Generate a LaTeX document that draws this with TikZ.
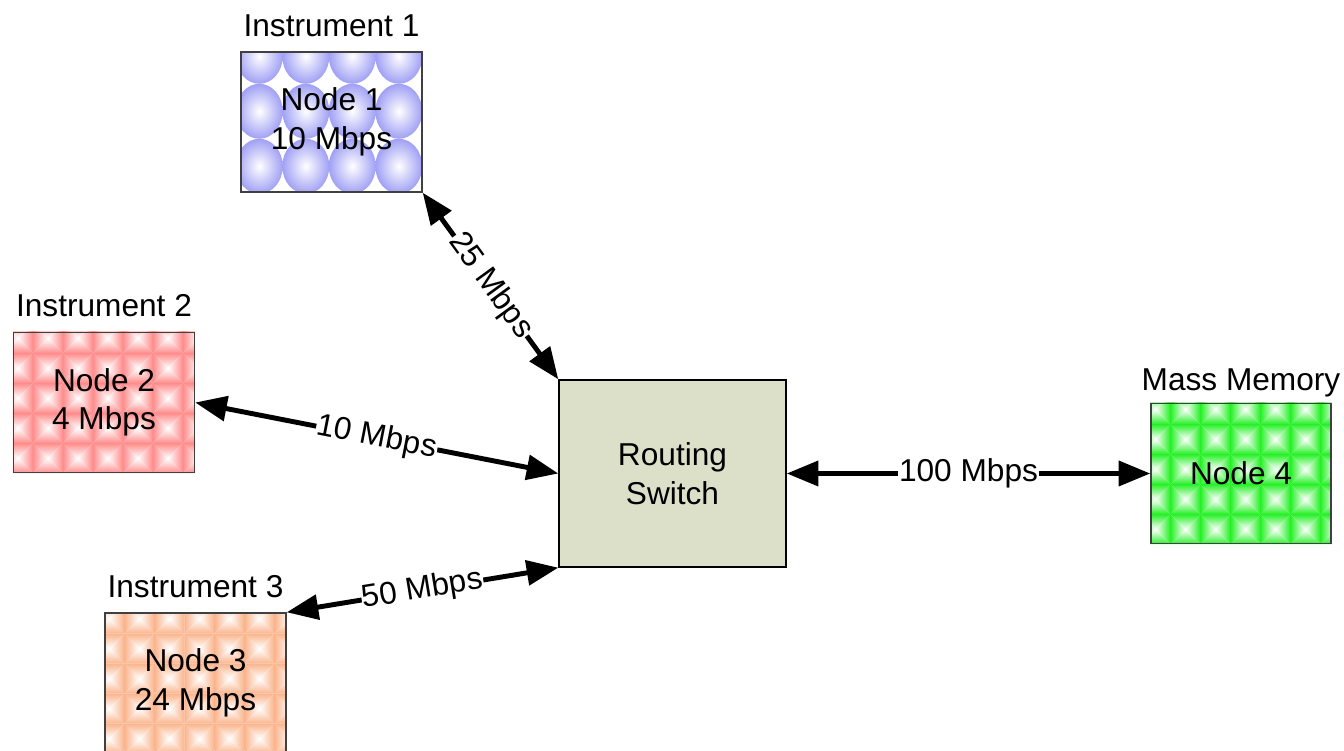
\documentclass[tikz,border=0pt]{standalone}
\usepackage{fontspec}
\setmainfont{Liberation Sans}
\usetikzlibrary{arrows.meta,backgrounds}

\definecolor{bubblec}{RGB}{160,160,245}
\definecolor{pinkc}{RGB}{255,140,140}
\definecolor{peachc}{RGB}{250,180,140}
\definecolor{greenc}{RGB}{40,240,40}
\definecolor{switchc}{RGB}{221,224,200}

\begin{document}
\begin{tikzpicture}[
    font=\fontsize{18}{22}\selectfont,
    box/.style={draw=black!75, line width=0.8pt, minimum width=3.62cm,
      minimum height=2.8cm, inner sep=0pt, align=center},
    title/.style={anchor=base, inner sep=0pt},
    link/.style={{Triangle[length=18pt,width=14pt]}-{Triangle[length=18pt,width=14pt]},
      line width=2.8pt},
    rate/.style={sloped, fill=white, inner sep=0.5pt}]
  \useasboundingbox (0,0) rectangle (26.88,15.02);

  % 节点
  \node[box] (node1) at (6.63,12.58) {Node 1\\10 Mbps};
  \node[box] (node2) at (2.08,6.97) {Node 2\\4 Mbps};
  \node[box] (node3) at (3.91,1.36) {Node 3\\24 Mbps};
  \node[box, minimum width=3.6cm] (node4) at (24.82,5.55) {Node 4};
  \node[box, draw=black, fill=switchc, minimum width=4.54cm, minimum height=3.74cm]
    (switch) at (13.45,5.55) {Routing\\Switch};

  % 标题
  \node[title] (t1) at ([yshift=0.3cm]node1.north) {Instrument 1};
  \node[title] (t2) at ([yshift=0.3cm]node2.north) {Instrument 2};
  \node[title] (t3) at ([yshift=0.3cm]node3.north) {Instrument 3};
  \node[title] (t4) at ([yshift=0.24cm]node4.north) {Mass Memory};

  % 填充图案
  \begin{scope}[on background layer]
    \begin{scope}
      \clip (node1.south west) rectangle (node1.north east);
      \foreach \i in {0,...,3}
        \foreach \j in {0,...,3} {
          \shade[inner color=white, outer color=bubblec]
            ([shift={(0.38+0.93*\i,-0.1-1.1*\j)}]node1.north west) ellipse (0.47 and 0.55);
        }
    \end{scope}
    \foreach \nd/\col in {node2/pinkc, node3/peachc, node4/greenc} {
      \begin{scope}
        \clip (\nd.south west) rectangle (\nd.north east);
        \foreach \i in {0,...,6}
          \foreach \j in {0,...,4} {
            \begin{scope}[shift={(\nd.south west)}, shift={(0.6*\i-0.2,0.6*\j)}]
              \shade[top color=\col, bottom color=white] (0,0.6) -- (0.6,0.6) -- (0.3,0.3) -- cycle;
              \shade[bottom color=\col, top color=white] (0,0) -- (0.6,0) -- (0.3,0.3) -- cycle;
              \shade[left color=\col, right color=white] (0,0) -- (0,0.6) -- (0.3,0.3) -- cycle;
              \shade[right color=\col, left color=white] (0.6,0) -- (0.6,0.6) -- (0.3,0.3) -- cycle;
            \end{scope}
          }
      \end{scope}
    }
  \end{scope}

  % 连线
  \draw[link] (node1.south east) -- node[rate] {25 Mbps} (switch.north west);
  \draw[link] (node2.east) -- node[rate] {10 Mbps} (switch.west);
  \draw[link] (node3.north east) -- node[rate] {50 Mbps} (switch.south west);
  \draw[link] (switch.east) -- node[rate] {100 Mbps} (node4.west);
\end{tikzpicture}
\end{document}
